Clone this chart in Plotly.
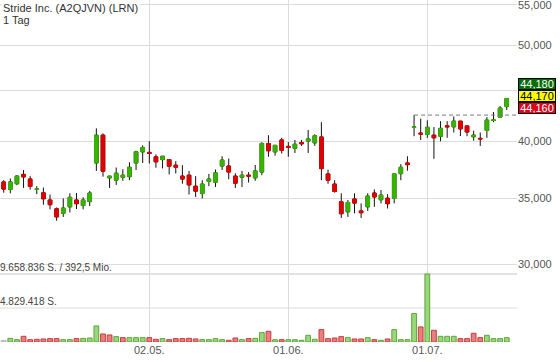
import math
import plotly.graph_objects as go

# ---------------- data ----------------
opens = [36.35, 35.72, 36.20, 37.00, 36.60, 35.72, 35.44, 34.85, 34.14, 33.78,
         34.30, 34.85, 34.40, 34.72, 38.00, 40.55, 36.70, 36.50, 36.75, 36.80,
         38.00, 39.00, 38.95, 38.55, 38.30, 38.30, 37.80, 36.85, 36.93, 35.99,
         35.38, 36.40, 36.33, 37.73, 37.73, 36.85, 36.76, 36.93, 36.70, 37.20,
         39.77, 39.00, 40.10, 39.50, 39.33, 39.85, 40.00, 39.83, 40.38, 37.04,
         36.17, 34.70, 33.90, 34.93, 33.97, 34.30, 35.42, 34.87, 35.00, 34.98,
         37.06, 38.00, 41.30, 40.75, 40.63, 40.55, 40.45, 41.45, 41.35, 41.90,
         41.44, 40.40, 40.25, 41.00, 41.97, 42.30, 43.35]
highs = [36.50, 36.65, 36.93, 37.38, 36.85, 36.00, 35.88, 35.30, 34.25, 34.98,
         35.40, 35.42, 35.07, 35.60, 41.20, 40.72, 36.85, 37.60, 37.45, 38.06,
         39.10, 39.60, 39.98, 38.77, 38.60, 38.30, 38.16, 37.80, 37.30, 36.85,
         36.50, 37.04, 37.42, 38.60, 38.40, 37.10, 37.30, 37.20, 37.82, 39.90,
         40.55, 39.60, 40.30, 39.90, 40.10, 40.10, 41.05, 40.63, 41.80, 37.40,
         36.50, 35.40, 34.85, 35.40, 34.58, 35.40, 35.72, 35.67, 35.33, 37.04,
         37.90, 38.60, 42.50, 42.15, 41.98, 41.33, 41.90, 41.90, 42.37, 41.90,
         41.44, 40.98, 40.80, 42.30, 42.80, 43.40, 44.18]
lows = [35.45, 35.40, 36.08, 35.85, 35.70, 35.33, 34.47, 34.10, 33.20, 33.50,
        33.85, 34.12, 34.10, 34.36, 37.30, 36.80, 35.85, 36.10, 36.45, 36.50,
        37.38, 38.00, 37.95, 37.58, 37.52, 37.00, 37.08, 36.20, 35.30, 35.10,
        34.98, 35.99, 35.93, 37.38, 36.58, 35.85, 35.93, 36.30, 36.45, 36.93,
        38.55, 38.65, 38.85, 38.55, 38.90, 39.55, 38.90, 39.55, 36.50, 36.20,
        35.45, 33.42, 33.50, 33.78, 33.42, 33.97, 34.30, 34.58, 34.17, 34.58,
        36.50, 37.32, 40.45, 40.10, 40.30, 38.37, 39.97, 40.30, 40.80, 40.47,
        40.45, 40.03, 39.55, 40.30, 41.80, 42.30, 43.00]
closes = [35.75, 36.35, 36.85, 36.78, 35.97, 35.76, 34.95, 34.47, 33.50, 34.20,
          35.07, 34.55, 34.85, 35.42, 40.55, 37.28, 36.85, 37.10, 36.93, 37.62,
          39.00, 39.40, 38.85, 38.10, 38.60, 37.72, 37.62, 36.60, 36.10, 35.58,
          36.17, 36.60, 37.13, 38.26, 37.20, 36.25, 36.93, 36.85, 37.30, 39.77,
          39.10, 39.60, 39.13, 39.40, 39.70, 39.75, 40.20, 40.50, 37.50, 36.50,
          35.55, 33.75, 34.65, 34.60, 33.83, 35.17, 35.10, 35.25, 34.55, 37.04,
          37.62, 37.85, 41.33, 40.65, 41.30, 40.30, 41.20, 41.35, 41.90, 41.15,
          40.85, 40.55, 40.20, 42.00, 42.02, 43.20, 44.18]
volumes = [190000, 520000, 330000, 810000, 330000, 380000, 430000, 480000, 480000, 330000,
           330000, 480000, 520000, 570000, 2280000, 1140000, 1000000, 760000, 620000, 620000,
           620000, 620000, 620000, 380000, 480000, 330000, 480000, 480000, 520000, 430000,
           330000, 330000, 480000, 330000, 240000, 570000, 330000, 480000, 520000, 1330000,
           1520000, 330000, 330000, 330000, 330000, 240000, 950000, 380000, 1760000, 480000,
           570000, 760000, 620000, 430000, 430000, 620000, 330000, 240000, 430000, 1760000,
           330000, 330000, 4040000, 2140000, 9658836, 1660000, 810000, 810000, 810000, 480000,
           480000, 1240000, 620000, 950000, 480000, 480000, 620000]

x_tick_index = [22, 43, 64]
x_tick_text = ["02.05.", "01.06.", "01.07."]
y_tick_vals = [30, 35, 40, 45, 50, 55]
y_tick_text = ["30,000", "35,000", "40,000", "", "50,000", "55,000"]

title_line1 = "Stride Inc. (A2QJVN) (LRN)"
title_line2 = "1 Tag"
turnover_text = "392,5 Mio."

quote_last = 44.18
quote_mid = 44.17
quote_low = 44.16
ref_level_index = 62           # candle where the dashed reference line starts
ref_level = highs[ref_level_index]

# ---------------- styling ----------------
FONT = "Liberation Sans, Arial, sans-serif"
GREEN = "#36b400"
RED = "#e00000"
GRID = "#dcdcdc"
TICK = "#555555"

n = len(closes)
xs = list(range(n))
x_range = [-0.556, 77.55]
y_range = [math.log10(25.01), math.log10(55.61)]

vmax = max(volumes)
plot_h = 342
vol_panel_px = 68
vol_range = [0, vmax * plot_h / vol_panel_px]

def de_int(v):
    return f"{v:,}".replace(",", ".")

vol_fill, vol_line = [], []
for i in range(n):
    if i == 0:
        vol_fill.append("#d6d6d6"); vol_line.append("#b0b0b0")
    elif closes[i] >= closes[i - 1]:
        vol_fill.append("#98d87a"); vol_line.append("#5ea43c")
    else:
        vol_fill.append("#ea7f7f"); vol_line.append("#c43c3c")

body_hi = [max(o, c) for o, c in zip(opens, closes)]
body_lo = [min(o, c) for o, c in zip(opens, closes)]

fig = go.Figure()

fig.add_trace(go.Bar(
    x=xs, y=volumes, yaxis="y2", width=0.72,
    marker=dict(color=vol_fill, line=dict(color=vol_line, width=1)),
    hoverinfo="skip", showlegend=False))

# wicks (black)
fig.add_trace(go.Candlestick(
    x=xs, open=opens, high=highs, low=lows, close=closes,
    increasing=dict(line=dict(color="#111111", width=1), fillcolor="#111111"),
    decreasing=dict(line=dict(color="#111111", width=1), fillcolor="#111111"),
    hoverinfo="skip", showlegend=False))

# bodies (coloured)
fig.add_trace(go.Candlestick(
    x=xs, open=opens, high=body_hi, low=body_lo, close=closes,
    increasing=dict(line=dict(color=GREEN, width=1), fillcolor=GREEN),
    decreasing=dict(line=dict(color=RED, width=1), fillcolor=RED),
    hoverinfo="skip", showlegend=False))

shapes = [
    dict(type="line", xref="paper", yref="y2", x0=0, x1=1, y0=vmax, y1=vmax,
         line=dict(color="#e2e2e2", width=2), layer="below"),
    dict(type="line", xref="paper", yref="y2", x0=0, x1=1, y0=vmax / 2, y1=vmax / 2,
         line=dict(color=GRID, width=1), layer="below"),
    dict(type="line", xref="x", yref="y", x0=ref_level_index, x1=x_range[1],
         y0=ref_level, y1=ref_level, line=dict(color="#777777", width=1, dash="4px,3px")),
]

annotations = [
    dict(text=title_line1, xref="paper", yref="paper", x=0, y=1, xanchor="left",
         yanchor="top", xshift=1, yshift=0, showarrow=False, bgcolor="white",
         borderpad=1, font=dict(family=FONT, size=11, color="#333333")),
    dict(text=title_line2, xref="paper", yref="paper", x=0, y=1, xanchor="left",
         yanchor="top", xshift=1, yshift=-12, showarrow=False,
         borderpad=1, font=dict(family=FONT, size=11, color="#333333")),
    dict(text=f"{de_int(vmax)} S. / {turnover_text}", xref="paper", yref="y2", x=0,
         y=vmax, xanchor="left", yanchor="bottom", xshift=-1, yshift=0, showarrow=False,
         borderpad=0, font=dict(family=FONT, size=10, color="#444444")),
    dict(text=f"{de_int(vmax // 2)} S.", xref="paper", yref="y2", x=0,
         y=vmax / 2, xanchor="left", yanchor="bottom", xshift=-1, yshift=0, showarrow=False,
         borderpad=0, font=dict(family=FONT, size=10, color="#444444")),
]

badges = [(quote_last, "#006e00", "white", 14.5),
          (quote_mid, "#ffff00", "black", 2.5),
          (quote_low, "#e0001b", "white", -9.5)]
for val, bg, fc, shift in badges:
    annotations.append(dict(
        text=f"{val:.3f}".replace(".", ","), xref="paper", yref="y", x=1,
        y=math.log10(quote_mid), xanchor="left", yanchor="middle", xshift=1,
        yshift=shift, showarrow=False, bgcolor=bg, bordercolor="#000000",
        borderwidth=1, borderpad=0, width=36, height=10, align="center",
        font=dict(family=FONT, size=11, color=fc)))

fig.update_layout(
    width=560, height=362,
    margin=dict(l=0, r=43, t=0, b=20),
    paper_bgcolor="white", plot_bgcolor="white",
    showlegend=False, hovermode=False, boxgap=0.22,
    font=dict(family=FONT, size=11, color=TICK),
    xaxis=dict(range=x_range, tickmode="array", tickvals=x_tick_index,
               ticktext=x_tick_text, showgrid=True, gridcolor=GRID, gridwidth=1,
               zeroline=False, showline=False, ticks="", rangeslider=dict(visible=False),
               tickfont=dict(family=FONT, size=11, color=TICK), fixedrange=True),
    yaxis=dict(type="log", range=y_range, side="right", tickmode="array",
               tickvals=y_tick_vals, ticktext=y_tick_text, showgrid=True,
               gridcolor=GRID, gridwidth=1, zeroline=False, showline=False, ticks="",
               ticklabeloverflow="allow",
               tickfont=dict(family=FONT, size=11, color=TICK), fixedrange=True),
    yaxis2=dict(overlaying="y", range=vol_range, visible=False, showgrid=False,
                fixedrange=True),
    shapes=shapes, annotations=annotations,
)

fig.write_html("out.html", config={"displayModeBar": False},
               post_script="document.body.style.margin='0px';")
